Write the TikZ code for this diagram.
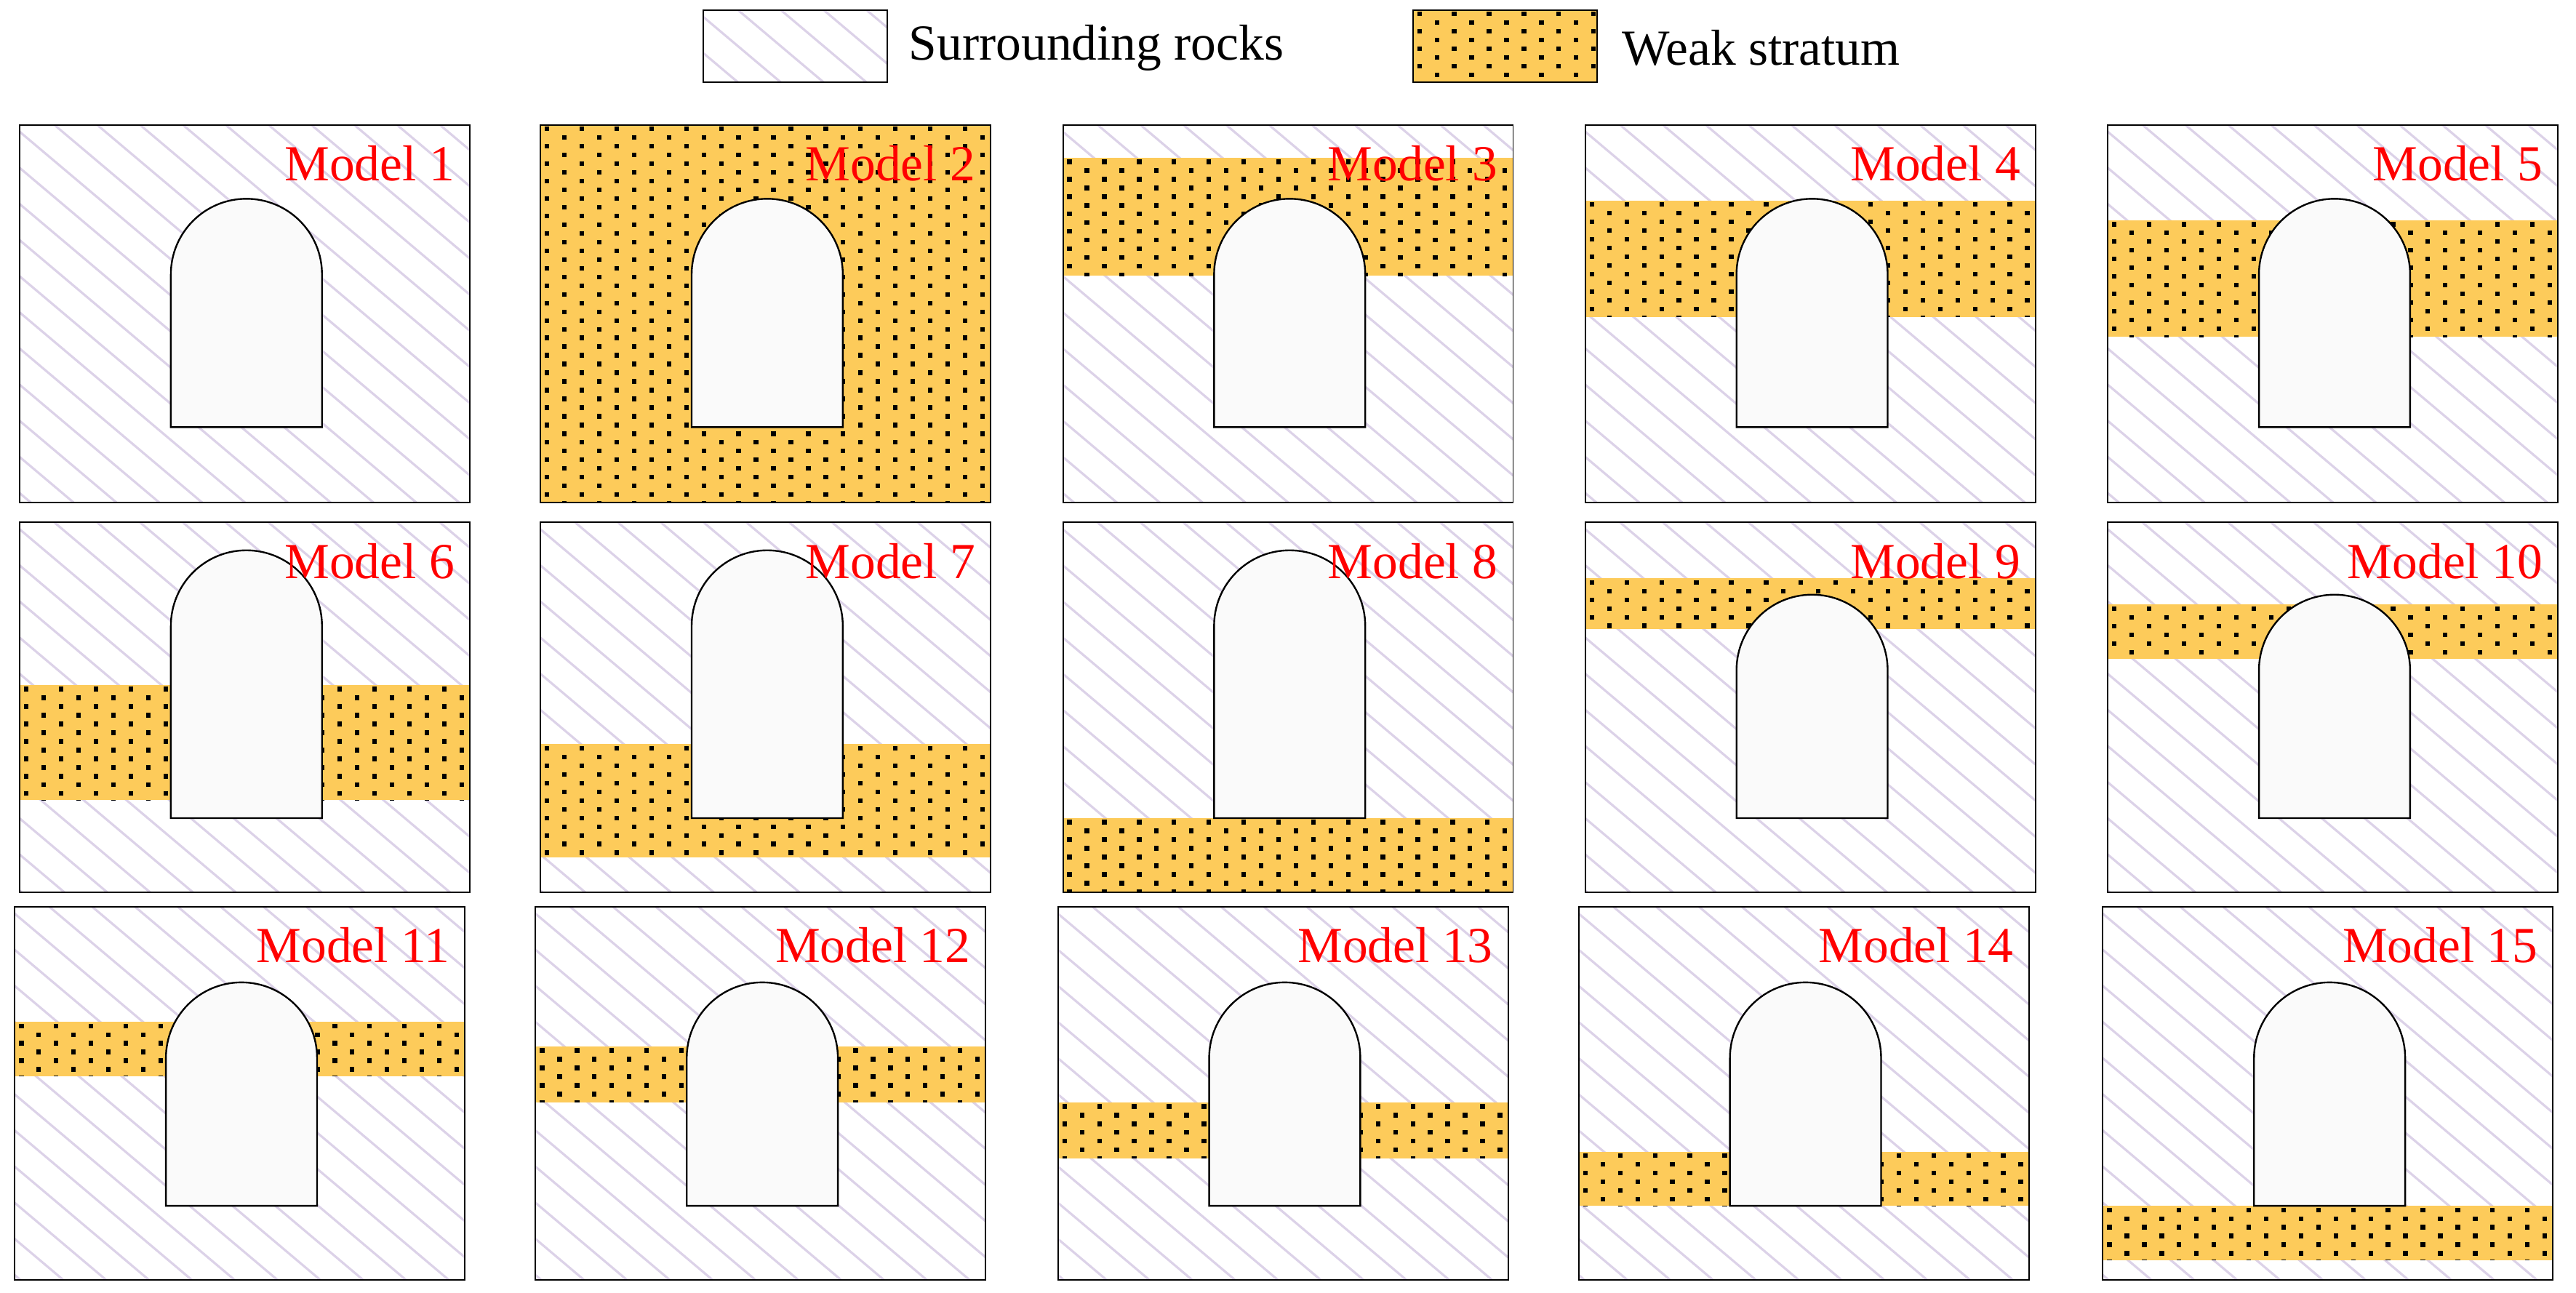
\documentclass[tikz,border=0pt]{standalone}
\usepackage{fontspec}
\setmainfont{Liberation Serif}
\definecolor{ws}{HTML}{FDCB5A}
\definecolor{hc}{HTML}{DCD2E8}
\begin{document}
\begin{tikzpicture}[x=0.02cm,y=-0.02cm,
  hatch/.style={hc,line width=0.8pt},
  frame/.style={black,line width=0.5pt},
  tun/.style={draw=black,fill=white!98!black,line width=0.6pt},
  lab/.style={anchor=base east,text=red,font=\fontsize{17.5}{20}\selectfont,inner sep=0pt},
  leg/.style={anchor=west,font=\fontsize{17.5}{20}\selectfont,inner sep=0pt}]
\useasboundingbox (0,0) rectangle (1568,787);
\newcommand\hatchbox[4]{%
 \begin{scope}\clip (#1,#2) rectangle (#3,#4);
 \foreach \k in {-16,...,12}{\draw[hatch] (#1-5,#2+\k*22) -- ++(320,270);}
 \end{scope}}
\newcommand\dotbox[4]{%
 \begin{scope}\clip (#1,#2) rectangle (#3,#4);
 \fill[ws] (#1,#2) rectangle (#3,#4);
 \pgfmathtruncatemacro\nr{((#4)-(#2))/5.3+1}
 \foreach \r in {0,...,\nr}{%
   \pgfmathsetmacro\yy{#2+2.5+\r*5.3}
   \pgfmathsetmacro\xo{#1+4+mod(\r,2)*10.6}
   \foreach \c in {0,...,13}{\fill (\xo+\c*21.2-1.4,\yy-1.4) rectangle ++(2.8,2.8);}}
 \end{scope}}
\newcommand\panel[8]{% x0 y0 y1 s1 s2 ttop tbot label
 \hatchbox{#1}{#2}{#1+274}{#3}
 \dotbox{#1}{#4}{#1+274}{#5}
 \draw[tun] (#1+92,#7) -- (#1+92,#6+46) arc(180:360:46) -- (#1+184,#7) -- cycle;
 \draw[frame] (#1,#2) rectangle (#1+274,#3);
 \node[lab] (m#8) at (#1+265,#2+34) {Model #8};}
% legend
\hatchbox{428}{6}{540}{50}
\draw[frame] (428,6) rectangle (540,50);
\node[leg] (l1) at (553,29) {Surrounding rocks};
\dotbox{860}{6}{972}{50}
\draw[frame] (860,6) rectangle (972,50);
\node[leg] (l2) at (987,29) {Weak stratum};
% row 1
\panel{12}{76}{306}{0}{0}{121}{260}{1}
\panel{329}{76}{306}{76}{306}{121}{260}{2}
\panel{647}{76}{306}{96}{168}{121}{260}{3}
\panel{965}{76}{306}{122}{193}{121}{260}{4}
\panel{1283}{76}{306}{134}{205}{121}{260}{5}
% row 2
\panel{12}{318}{543}{417}{487}{335}{498}{6}
\panel{329}{318}{543}{453}{522}{335}{498}{7}
\panel{647}{318}{543}{498}{543}{335}{498}{8}
\panel{965}{318}{543}{352}{383}{362}{498}{9}
\panel{1283}{318}{543}{368}{401}{362}{498}{10}
% row 3
\panel{9}{552}{779}{622}{655}{598}{734}{11}
\panel{326}{552}{779}{637}{671}{598}{734}{12}
\panel{644}{552}{779}{671}{705}{598}{734}{13}
\panel{961}{552}{779}{701}{734}{598}{734}{14}
\panel{1280}{552}{779}{734}{767}{598}{734}{15}
\end{tikzpicture}
\end{document}
